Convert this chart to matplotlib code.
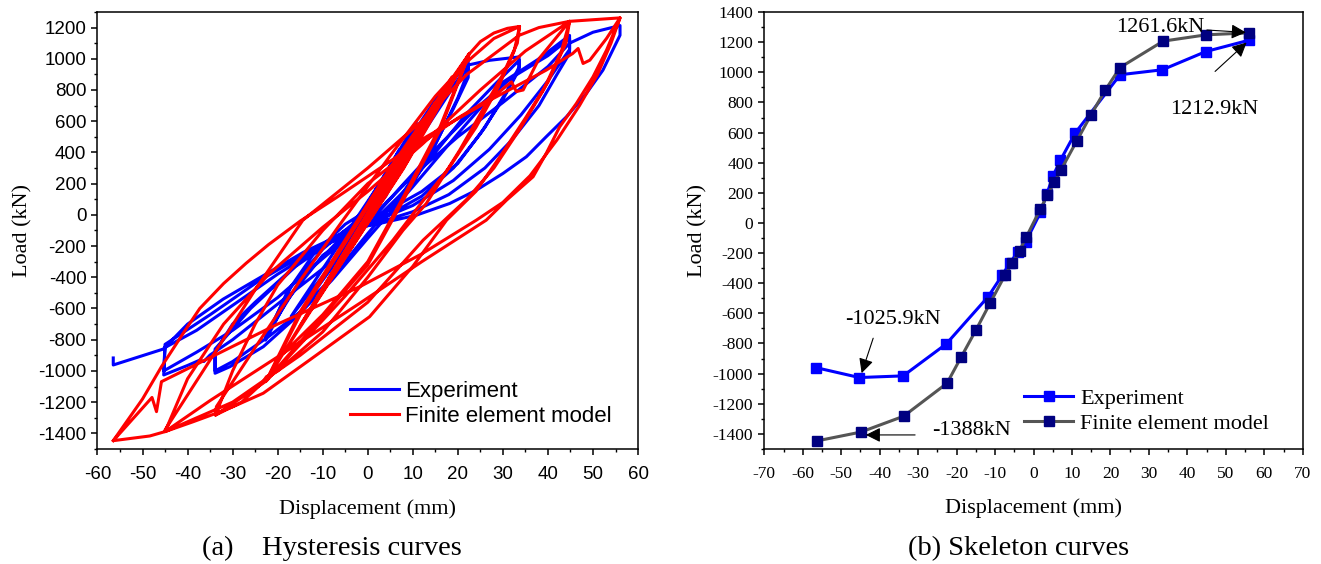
import numpy as np
import matplotlib.pyplot as plt
from matplotlib.ticker import MultipleLocator

plt.rcParams['axes.unicode_minus'] = False

# ---- hysteresis data (displacement mm, load kN) ----
# experiment
exp_d_el = [0, 1.8, -2.0, 0.5, 3.5, -4.0, 1.0, 5.1, -6.2, 1.5, 7.0, -8.1, 2.0, 10.8, -11.8, 3.0, 16.0, -17.0, 4.0]
exp_f_el = [0, 70, -123, 10, 195, -190, 20, 315, -267, 40, 417, -345, 60, 596, -489, 90, 780, -650, 120]
exp_d_22 = [10, 15, 20, 22.3, 22.3, 20, 15, 10, 5, 0, -10, -18, -22.7, -18, -12, -5, 0, 5, 10, 15, 20, 22.3,
            22.3, 19, 14, 8, 2, -6, -15, -22.7, -17, -10, -3, 3, 8, 14, 19]
exp_f_22 = [450, 700, 900, 990, 920, 750, 450, 200, 40, -60, -260, -550, -803, -500, -250, -60, 30, 200, 450, 680, 860, 940,
            880, 680, 400, 150, -20, -150, -420, -780, -460, -220, -50, 120, 330, 600, 820]
exp_d_33 = [22.3, 27, 33.6, 33.6, 31, 26, 20, 12, 4, -5, -15, -25, -30, -33.9, -33.9,
            -30.6, -23.2, -16.6, -11.4, -8.4, 0, 8, 15, 22, 28, 33.6,
            33.6, 30, 25, 19, 12, 4, -6, -16, -26, -33.9, -33.9,
            -30, -22, -14, -8, 0, 10, 20, 30]
exp_f_33 = [960, 990, 1012, 948, 800, 560, 330, 150, 20, -100, -300, -560, -700, -880, -1015,
            -973, -845, -674, -503, -418, -120, 150, 400, 650, 830, 990,
            930, 740, 520, 300, 120, -10, -130, -330, -600, -860, -1000,
            -940, -780, -600, -420, -150, 180, 520, 850]
exp_d_45 = [38, 44.8, 44.8, 42, 38, 32, 26, 18, 10, 0, -10, -20, -30, -38, -45, -45.3,
            -40, -37.3, -36.4, -35, -30, -23, -16, -8, 0, 8, 16, 24, 32, 40, 44.8,
            44.8, 40, 34, 27, 19, 10, 0, -12, -24, -35, -45, -45.3,
            -38, -30, -20, -10, 0, 10, 20, 30, 40, 44.8]
exp_f_45 = [1000, 1150, 1035, 900, 700, 480, 300, 130, 20, -70, -200, -380, -580, -740, -850, -1026,
            -965, -931, -940, -898, -800, -640, -480, -300, -60, 200, 450, 680, 880, 1020, 1130,
            1060, 860, 640, 420, 220, 60, -60, -220, -420, -640, -830, -1000,
            -880, -740, -530, -280, -40, 250, 500, 720, 950, 1100]
exp_d_56 = [50, 56, 56, 52.2, 48.5, 44.1, 39.6, 35.2, 30, 24.1, 18.2, 10.8, 2.7, -1.8, -5.5, -14.3,
            -23.2, -32.1, -40, -45.4, -56.5, -56.5]
exp_f_56 = [1170, 1213, 1151, 927, 777, 628, 500, 372, 265, 158, 73, -2, -55, -77, -120, -240,
            -390, -540, -700, -860, -962, -917]

# finite element model
fem_d_el = [0, 1.8, -1.9, 1.0, 3.6, -3.6, 2.0, 5.4, -5.5, 3.0, 7.1, -7.4, 4.0, 11.2, -11.3, 6.0, 14.9, -15.0, 8.0, 18.7, -18.8, 9.0]
fem_f_el = [0, 94, -94, 40, 185, -183, 80, 269, -267, 110, 351, -345, 150, 543, -532, 220, 716, -712, 300, 884, -889, 350]
fem_d_22 = [22.5, 16, 8, 0, -10, -18.8, -22.5, -15, -5, 5, 15, 22.5, 16, 8, 0, -10, -22.5, -15, -5, 5, 15, 22.3]
fem_f_22 = [1032, 560, 120, -300, -640, -889, -1064, -640, -180, 280, 700, 1030, 540, 100, -320, -650, -1060, -620, -160, 300, 720, 1023]
fem_d_33 = [25, 28, 31, 33.7, 33.2, 30, 26.3, 20.4, 13, 7.8, 0, -10, -20, -22.5, -23.5, -28, -33.8,
            -33.6, -25, -15, -5.5, 5, 15, 22, 28, 33.7,
            32.5, 29, 24, 18, 12, 5.6, -5, -15, -22.5, -33.8]
fem_f_33 = [1110, 1165, 1195, 1207, 1100, 900, 713, 414, 73, -100, -400, -750, -1000, -1037, -1080, -1200, -1283,
            -1229, -850, -420, -34, 380, 760, 980, 1130, 1207,
            1050, 820, 560, 300, 80, -162, -520, -830, -1064, -1283]
fem_d_45 = [-30, -25, -20, -10, 0, 10, 20, 28, 31.9, 33, 34.5, 38, 44.8,
            44, 40, 35, 30, 24, 17.5, 10, 0.4, -12.9, -23.2, -29.9, -33.6, -38.7, -45,
            -40, -32, -22, -10, 0, 12, 25, 35, 44.8,
            43, 39, 34, 28, 22, 12.3, 0, -15, -30, -45]
fem_f_45 = [-1000, -700, -450, -100, 200, 420, 620, 760, 852, 790, 800, 1000, 1240,
            1100, 850, 620, 400, 150, -34, -330, -653, -930, -1143, -1229, -1271, -1325, -1389,
            -1050, -700, -380, -80, 150, 450, 800, 1050, 1240,
            1050, 800, 560, 300, 100, -162, -560, -900, -1200, -1389]
fem_d_56 = [-45, -35, -25, -14.4, 0, 12, 22, 33.6, 38, 44.8, 50, 56,
            53, 50, 46.3, 42.6, 39.6, 36.7, 30.8, 26.3, 12, -1.8, -20, -35, -45, -48.4, -56.5,
            -50, -45.8, -41, -37.3, -32, -27, -22, -15, -7, 0.4, 13, 27.8, 39.6, 45.5, 46.7, 47.8, 49.3, 53, 56,
            54, 51, 47, 42, 36, 30, 24.1, 12, -1.8, -20, -45.8, -46.9, -47.9, -56.5]
fem_f_56 = [-1378, -930, -480, -34, 300, 600, 900, 1150, 1200, 1240, 1250, 1262,
            1055, 884, 713, 564, 393, 244, 94, -34, -300, -567, -910, -1190, -1389, -1417, -1447,
            -1180, -973, -760, -600, -440, -310, -190, -40, 110, 254, 500, 745, 927, 1034, 1066, 970, 991, 1130, 1262,
            1100, 900, 700, 480, 250, 80, -34, -250, -461, -700, -1069, -1261, -1170, -1447]

# ---- skeleton curves ----
skel_exp_d = [-56.6, -45.3, -33.9, -22.7, -11.8, -8.1, -6.2, -4.0, -2.0, 1.8, 3.5, 5.1, 7.0, 10.8, 22.5, 33.5, 44.8, 56.0]
skel_exp_f = [-960, -1026, -1015, -803, -489, -345, -267, -190, -123, 70, 195, 315, 417, 596, 984, 1017, 1138, 1213]
skel_fem_d = [-56.4, -44.9, -33.8, -22.5, -18.8, -15.0, -11.3, -7.4, -5.5, -3.6, -1.9, 1.8, 3.6, 5.4, 7.1, 11.2,
              14.9, 18.7, 22.5, 33.7, 44.9, 56.0]
skel_fem_f = [-1447, -1388, -1283, -1064, -889, -712, -532, -345, -267, -183, -94, 94, 185, 269, 351, 543,
              716, 884, 1032, 1207, 1249, 1262]

exp_d = exp_d_el + exp_d_22 + exp_d_33 + exp_d_45 + exp_d_56
exp_f = exp_f_el + exp_f_22 + exp_f_33 + exp_f_45 + exp_f_56
fem_d = fem_d_el + fem_d_22 + fem_d_33 + fem_d_45 + fem_d_56
fem_f = fem_f_el + fem_f_22 + fem_f_33 + fem_f_45 + fem_f_56

serif = 'Liberation Serif'
sans = 'Liberation Sans'

fig = plt.figure(figsize=(13.21, 5.64), dpi=100)
ax1 = fig.add_axes([0.0738, 0.204, 0.4092, 0.7748])
ax2 = fig.add_axes([0.5786, 0.204, 0.4076, 0.7746])

# (a) hysteresis
ax1.plot(exp_d, exp_f, color='#0000ff', lw=2.2, solid_joinstyle='round', label='Experiment')
ax1.plot(fem_d, fem_f, color='#ff0000', lw=2.2, solid_joinstyle='round', label='Finite element model')
ax1.set_xlim(-60, 60)
ax1.set_ylim(-1500, 1300)
xt1 = np.arange(-60, 61, 10)
yt1 = np.arange(-1400, 1201, 200)
ax1.set_xticks(xt1)
ax1.set_xticklabels([str(v) for v in xt1], fontfamily=sans, fontsize=13.5)
ax1.set_yticks(yt1)
ax1.set_yticklabels([str(v) for v in yt1], fontfamily=sans, fontsize=13.5)
ax1.xaxis.set_minor_locator(MultipleLocator(5))
ax1.yaxis.set_minor_locator(MultipleLocator(100))
ax1.set_xlabel('Displacement (mm)', fontsize=16, family=serif, labelpad=12)
ax1.set_ylabel('Load (kN)', fontsize=16, family=serif, labelpad=4)
ax1.legend(loc='lower right', bbox_to_anchor=(0.952, 0.05), frameon=False,
           prop={'family': sans, 'size': 16}, handlelength=2.2, handletextpad=0.3,
           labelspacing=0.2, borderpad=0, borderaxespad=0)

# (b) skeleton
ax2.plot(skel_exp_d, skel_exp_f, color='#0000ff', lw=2.2, marker='s', ms=7,
         mfc='#0000ff', mec='#0000ff', label='Experiment')
ax2.plot(skel_fem_d, skel_fem_f, color='#555555', lw=2.2, marker='s', ms=7,
         mfc='#000080', mec='#000080', label='Finite element model')
ax2.set_xlim(-70, 70)
ax2.set_ylim(-1500, 1400)
xt2 = np.arange(-70, 71, 10)
yt2 = np.arange(-1400, 1401, 200)
ax2.set_xticks(xt2)
ax2.set_xticklabels([str(v) for v in xt2], fontfamily=serif, fontsize=12.5)
ax2.set_yticks(yt2)
ax2.set_yticklabels([str(v) for v in yt2], fontfamily=serif, fontsize=12.5)
ax2.xaxis.set_minor_locator(MultipleLocator(5))
ax2.yaxis.set_minor_locator(MultipleLocator(100))
ax2.set_xlabel('Displacement (mm)', fontsize=16, family=serif, labelpad=12)
ax2.set_ylabel('Load (kN)', fontsize=16, family=serif, labelpad=4)
ax2.legend(loc='lower right', bbox_to_anchor=(0.937, 0.035), frameon=False,
           prop={'family': serif, 'size': 16}, handlelength=2.2, handletextpad=0.3,
           labelspacing=0.2, borderpad=0, borderaxespad=0)

arrow = dict(arrowstyle='-|>', color='black', lw=0.8, mutation_scale=22, shrinkA=0, shrinkB=0)
ax2.annotate('1261.6kN', xy=(55.2, 1265), xytext=(21.4, 1300), fontsize=16, family=serif,
             va='center', ha='left', arrowprops=arrow)
ax2.annotate('1212.9kN', xy=(55.4, 1198), xytext=(35.5, 751), fontsize=16, family=serif,
             va='center', ha='left')
ax2.annotate('', xy=(55.4, 1198), xytext=(47.2, 1006), arrowprops=arrow)
ax2.annotate('-1025.9kN', xy=(-36.5, -643), fontsize=16, family=serif, va='center', ha='center')
ax2.annotate('', xy=(-44.7, -997), xytext=(-41.7, -765), arrowprops=arrow)
ax2.annotate('-1388kN', xy=(-26.5, -1378), fontsize=16, family=serif, va='center', ha='left')
ax2.annotate('', xy=(-43.6, -1407), xytext=(-30.8, -1407), arrowprops=arrow)

for ax in (ax1, ax2):
    for s in ax.spines.values():
        s.set_linewidth(1.1)
    ax.tick_params(which='major', direction='out', length=4.5, width=1.1, top=False, right=False)
    ax.tick_params(which='minor', direction='out', length=2.5, width=1.0, top=False, right=False)
    ax.tick_params(axis='x', which='major', pad=7.5)

fig.text(0.2513, 0.028, '(a)    Hysteresis curves', fontsize=20.5, family=serif, ha='center', va='center')
fig.text(0.771, 0.028, '(b) Skeleton curves', fontsize=20.5, family=serif, ha='center', va='center')

fig.savefig('out.png', dpi=100)
